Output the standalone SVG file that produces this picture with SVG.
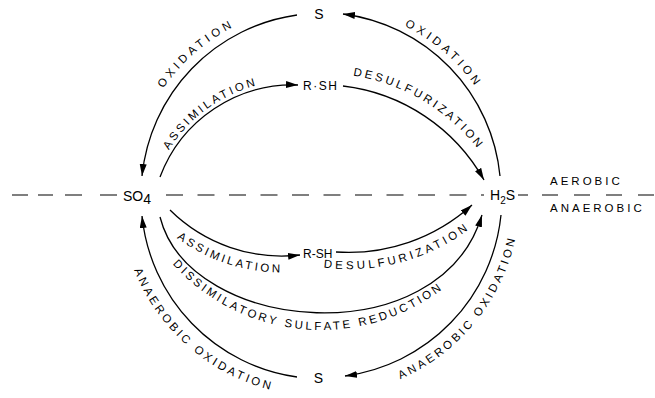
<svg xmlns="http://www.w3.org/2000/svg" width="655" height="398" viewBox="0 0 655 398">
<style>
.ln{fill:none;stroke:#000;stroke-width:1.3}
.arr{marker-end:url(#ah)}
.dash{fill:none;stroke:#000;stroke-width:1.2}
.lbl{font-family:"Liberation Sans",Arial,sans-serif;font-size:11.5px;fill:#000;letter-spacing:3px}
.node{font-family:"Liberation Sans",Arial,sans-serif;font-size:14px;fill:#000}
.sm{font-family:"Liberation Sans",Arial,sans-serif;font-size:12px;fill:#000}
.tp{fill:none;stroke:none}
</style>
<defs>
<marker id="ah" markerUnits="userSpaceOnUse" markerWidth="13" markerHeight="8" refX="12" refY="3.5" orient="auto">
<path d="M0,0 L12,3.5 L0,7 z" fill="#000"/>
</marker>
<path id="p1" class="tp" d="M132.3,166.3 A190,190 0 0 1 316.7,6.0"/>
<path id="p2" class="tp" d="M323.3,6.0 A190,190 0 0 1 507.7,166.3"/>
<path id="p3" class="tp" d="M121.1,175.1 A200,200 0 0 0 368.4,390.1"/>
<path id="p4" class="tp" d="M306.0,395.5 A200,200 0 0 0 512.3,140.9"/>
<path id="p5" class="tp" d="M147.4,216.8 A146,146 0 0 1 328.3,85.3"/>
<path id="p6" class="tp" d="M255.8,84.2 A199,199 0 0 1 518.0,239.8"/>
<path id="p7" class="tp" d="M118.3,162.2 A176,176 0 0 0 374.8,245.6"/>
<path id="p8" class="tp" d="M234.5,232.9 A200,200 0 0 0 530.5,153.6"/>
<path id="p9" class="tp" d="M139.7,214.5 A200,200 0 0 0 484.8,244.7"/>
</defs>
<rect width="655" height="398" fill="#fff"/>

<g id="divider">
<path class="dash" d="M12,195 H28 M38,195 H53 M65,195 H82 M100,195 H117"/>
<line class="dash" x1="166" y1="195" x2="467" y2="195" stroke-dasharray="17 14.5"/>
<path class="dash" d="M481,195 H484 M518,195 H528"/>
<line class="dash" x1="542" y1="195" x2="655" y2="195" stroke-dasharray="16 16"/>
</g>

<g id="connectors">
<path class="ln arr" d="M297,15 A181,181 0 0 0 142,176"/>
<path class="ln arr" d="M500,176 A181,181 0 0 0 343,14"/>
<path class="ln arr" d="M297,377 A181,181 0 0 1 142,216"/>
<path class="ln arr" d="M501,215 A181,181 0 0 1 345,376"/>
<path class="ln arr" d="M160,177 A142,142 0 0 1 298,85"/>
<path class="ln arr" d="M343,86 A187,187 0 0 1 484,180"/>
<path class="ln arr" d="M170,210 A159,159 0 0 0 300,255"/>
<path class="ln arr" d="M336,252 A184,184 0 0 0 472,205"/>
<path class="ln arr" d="M160,217 C190,335 440,355 482,215"/>

<text class="lbl" style="letter-spacing:3.8px"><textPath href="#p1" startOffset="50%" text-anchor="middle">OXIDATION</textPath></text>
<text class="lbl" style="letter-spacing:3.8px"><textPath href="#p2" startOffset="50%" text-anchor="middle">OXIDATION</textPath></text>
<text class="lbl"><textPath href="#p3" startOffset="50%" text-anchor="middle">ANAEROBIC OXIDATION</textPath></text>
<text class="lbl"><textPath href="#p4" startOffset="50%" text-anchor="middle">ANAEROBIC OXIDATION</textPath></text>
<text class="lbl" style="letter-spacing:2.8px"><textPath href="#p5" startOffset="50%" text-anchor="middle">ASSIMILATION</textPath></text>
<text class="lbl" style="letter-spacing:2.9px"><textPath href="#p6" startOffset="50%" text-anchor="middle">DESULFURIZATION</textPath></text>
<text class="lbl" style="letter-spacing:2.8px"><textPath href="#p7" startOffset="50%" text-anchor="middle">ASSIMILATION</textPath></text>
<text class="lbl" style="letter-spacing:3.3px"><textPath href="#p8" startOffset="50%" text-anchor="middle">DESULFURIZATION</textPath></text>
<text class="lbl" style="letter-spacing:2.8px"><textPath href="#p9" startOffset="50%" text-anchor="middle">DISSIMILATORY SULFATE REDUCTION</textPath></text>
</g>

<g id="node-S-top"><text class="node" x="319" y="18.5" text-anchor="middle">S</text></g>
<g id="node-RSH-top"><text class="sm" x="303" y="90" style="letter-spacing:1.5px">R·SH</text></g>
<g id="node-SO4"><text class="node" x="123" y="201">SO<tspan dy="2.5">4</tspan></text></g>
<g id="node-H2S"><text class="node" x="490" y="200">H<tspan font-size="10" dy="4">2</tspan><tspan dy="-4">S</tspan></text></g>
<g id="node-RSH-bottom"><text class="sm" x="303" y="258">R-SH</text></g>
<g id="node-S-bottom"><text class="node" x="318.5" y="383" text-anchor="middle">S</text></g>
<g id="zone-labels">
<text class="lbl" x="550" y="185" style="letter-spacing:3px">AEROBIC</text>
<text class="lbl" x="550" y="212" style="letter-spacing:3px">ANAEROBIC</text>
</g>
</svg>
